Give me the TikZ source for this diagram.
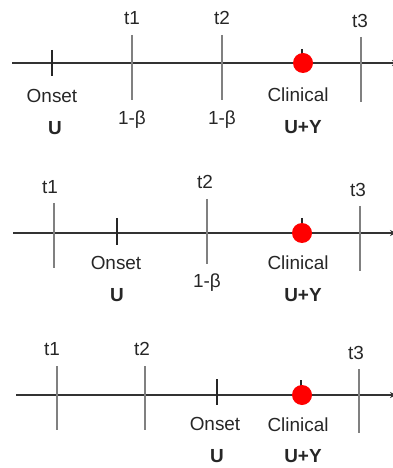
\documentclass[tikz,border=0pt]{standalone}
\usepackage{fontspec}
\setmainfont{Liberation Sans}
\usetikzlibrary{arrows.meta}
\begin{document}
\begin{tikzpicture}[x=1bp,y=-1bp,
  axisline/.style={draw=black!80,line width=1.4bp,-{Stealth[length=6bp,width=6bp]}},
  timeline/.style={draw=black!50,line width=1.3bp},
  evtick/.style={draw=black!85,line width=1.3bp},
  lbl/.style={font=\fontsize{19}{21}\selectfont,text=black!85,inner sep=0pt,anchor=center},
  blbl/.style={lbl,font=\fontsize{19}{21}\selectfont\bfseries},
  clin/.style={circle,fill=red,minimum size=20bp,inner sep=0pt}]
\useasboundingbox (0,0) rectangle (392,468);

% ---- first timeline ----
\coordinate (a1s) at (12,63);
\coordinate (a1e) at (398,63);
\draw[axisline] (a1s) -- (a1e);
\draw[evtick] (52,50) -- (52,76);
\draw[timeline] (132,35) -- (132,100);
\draw[timeline] (222,35) -- (222,100);
\draw[timeline] (361,37) -- (361,102);
\draw[evtick] (302,49) -- (302,63);
\node[clin] (c1) at (303,63) {};
\node[lbl] (t11) at (132,18) {t1};
\node[lbl] (t12) at (222,18) {t2};
\node[lbl] (t13) at (360,21) {t3};
\node[lbl] (o1) at (52,96) {Onset};
\node[blbl] (u1) at (55,128) {U};
\node[lbl] (b11) at (132,120) {1-β};
\node[lbl] (b12) at (222,120) {1-β};
\node[lbl] (cl1) at (298,95) {Clinical};
\node[blbl] (uy1) at (303,127) {U+Y};

% ---- second timeline ----
\coordinate (a2s) at (13,233);
\coordinate (a2e) at (396,233);
\draw[axisline] (a2s) -- (a2e);
\draw[timeline] (54,203) -- (54,268);
\draw[evtick] (117,218) -- (117,245);
\draw[timeline] (207,199) -- (207,264);
\draw[timeline] (360,206) -- (360,271);
\draw[evtick] (302,218) -- (302,233);
\node[clin] (c2) at (302,233) {};
\node[lbl] (t21) at (50,187) {t1};
\node[lbl] (t22) at (205,182) {t2};
\node[lbl] (t23) at (358,190) {t3};
\node[lbl] (o2) at (116,263) {Onset};
\node[blbl] (u2) at (117,295) {U};
\node[lbl] (b22) at (207,283) {1-β};
\node[lbl] (cl2) at (298,263) {Clinical};
\node[blbl] (uy2) at (303,295) {U+Y};

% ---- third timeline ----
\coordinate (a3s) at (16,395);
\coordinate (a3e) at (396,395);
\draw[axisline] (a3s) -- (a3e);
\draw[timeline] (57,366) -- (57,430);
\draw[timeline] (145,366) -- (145,430);
\draw[evtick] (217,379) -- (217,405);
\draw[timeline] (359,369) -- (359,433);
\draw[evtick] (301,380) -- (301,395);
\node[clin] (c3) at (302,395) {};
\node[lbl] (t31) at (52,349) {t1};
\node[lbl] (t32) at (142,349) {t2};
\node[lbl] (t33) at (356,353) {t3};
\node[lbl] (o3) at (215,424) {Onset};
\node[blbl] (u3) at (217,456) {U};
\node[lbl] (cl3) at (298,425) {Clinical};
\node[blbl] (uy3) at (303,456) {U+Y};
\end{tikzpicture}
\end{document}
